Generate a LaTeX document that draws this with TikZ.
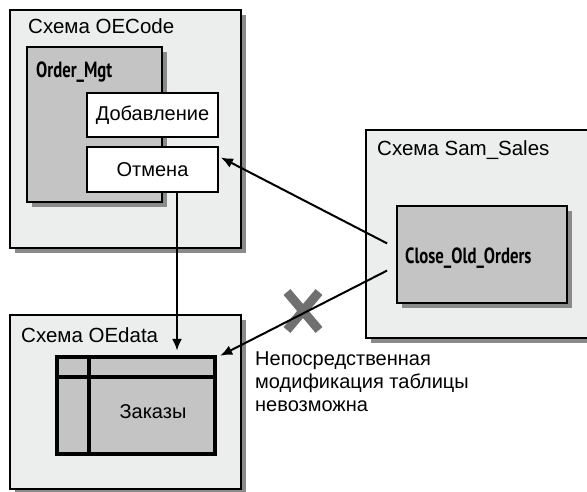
\documentclass[tikz,border=0pt]{standalone}
\usepackage{fontspec}
\setmainfont{Liberation Sans}
\newfontfamily\condfont[FakeStretch=0.76]{PT Sans}
\usetikzlibrary{shadows,arrows.meta,calc}
\definecolor{boxbg}{HTML}{ECEDED}
\definecolor{innerbg}{HTML}{C4C4C4}
\definecolor{shadowc}{HTML}{8A8A8A}
\definecolor{xgray}{HTML}{707070}
\begin{document}
\begin{tikzpicture}[x=1pt,y=-1pt,
  shad/.style={general shadow={fill=shadowc, shadow xshift=5pt, shadow yshift=-5pt}},
  schema/.style={draw, line width=2pt, fill=boxbg, inner sep=0pt, shad},
  module/.style={draw, line width=2pt, fill=innerbg, inner sep=0pt, shad},
  proc/.style={draw, line width=2pt, fill=white, inner sep=0pt, font=\fontsize{20}{23}\selectfont},
  ttl/.style={anchor=base west, inner sep=0pt, font=\fontsize{20.5}{24}\selectfont},
  bld/.style={anchor=base west, inner sep=0pt, font=\condfont\bfseries\fontsize{22}{24}\selectfont},
  arr/.style={line width=2pt, -{Latex[length=12pt,width=10pt]}},
  tblbox/.style={draw, line width=4.5pt, fill=innerbg, inner sep=0pt}
]
\useasboundingbox (0,0) rectangle (587,492);
\clip (0,0) rectangle (587,492);

% OECode schema
\node[schema, minimum width=231pt, minimum height=238pt] (oec) at (125.5,129) {};
\node[ttl] (oect) at (28,34) {Схема OECode};
\node[module, minimum width=135pt, minimum height=155pt] (om) at (94.5,124.5) {};
\node[bld] (omt) at (36,78) {Order\_Mgt};
\node[proc, minimum width=131pt, minimum height=44pt] (dob) at (152.5,115) {Добавление};
\node[proc, minimum width=131pt, minimum height=45pt] (otm) at (152.5,169.5) {Отмена};

% Sam_Sales schema
\node[schema, minimum width=234pt, minimum height=208pt] (sam) at (483,234) {};
\node[ttl] (samt) at (377,156) {Схема Sam\_Sales};
\node[module, minimum width=170pt, minimum height=97pt] (cls) at (482,254.5) {};
\node[bld] (clst) at (405,263) {Close\_Old\_Orders};

% OEdata schema
\node[schema, minimum width=231pt, minimum height=174pt] (oed) at (125.5,402) {};
\node[ttl] (oedt) at (21,342) {Схема OEdata};
\node[tblbox, minimum width=158pt, minimum height=97pt] (tbl) at (136,405.5) {};
\draw[line width=4pt] (tbl.west |- 0,377) -- (tbl.east |- 0,377);
\draw[line width=4pt] (89,0 |- tbl.north) -- (89,0 |- tbl.south);
\node[inner sep=0pt, font=\fontsize{20}{23}\selectfont] (zak) at (153,412) {Заказы};

% forbidden mark
\draw[xgray, line width=9pt] (287,292) -- (319,330);
\draw[xgray, line width=9pt] (319,292) -- (287,330);

% connectors
\coordinate (vs) at ($(otm.south)+(24.5,0)$);
\draw[arr, shorten >=4pt] (vs) -- (vs |- tbl.north);
\draw[arr, shorten <=10pt] ($(cls.west)+(0,-6.5)$) -- ($(otm.east)+(2,-12)$);
\draw[arr, shorten <=10pt] ($(cls.west)+(0,11.5)$) -- ($(tbl.north east)+(3,1)$);

\node[anchor=north west, align=left, inner sep=0pt, font=\fontsize{20}{23}\selectfont] (note) at (255,352)
  {Непосредственная\\модификация таблицы\\невозможна};
\end{tikzpicture}
\end{document}
